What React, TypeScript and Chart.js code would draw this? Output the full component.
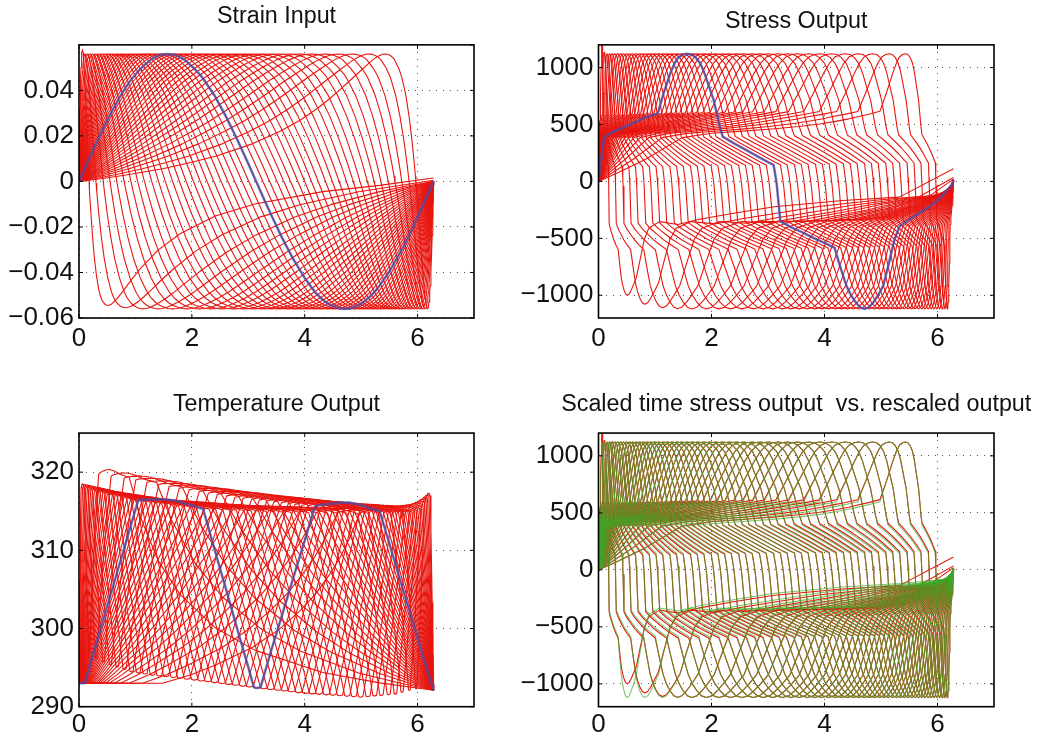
import React, { useEffect, useRef } from "react";
import { Chart, registerables } from "chart.js";
Chart.register(...registerables);

// Per-curve zero crossings (one per curve)
const zeroX = [0.18,0.30,0.43,0.55,0.67,0.80,0.92,1.04,1.16,1.29,1.41,1.53,1.66,1.78,1.90,2.03,2.15,2.27,2.39,2.52,2.64,2.76,2.89,3.01,3.14,3.26,3.38,3.51,3.63,3.75,3.88,4.00,4.12,4.24,4.37,4.49,4.61,4.74,4.86,4.98,5.11,5.23,5.35,5.48,5.60,5.72,5.85,5.97];
const BLUE = 24;
const PERIOD = 6.2832;

// Thick reference curve, read at these abscissae
const phase = [0,0.02,0.05,0.1,0.15,0.2,0.3,0.4,0.5,0.6,0.7,0.8,0.9,1.05,1.15,1.27,1.35,1.42,1.5,1.57,1.65,1.72,1.8,1.87,2.04,2.15,2.2,2.4,2.6,2.8,3.0,3.1,3.14,3.16,3.22,3.4,3.6,3.8,4.0,4.18,4.28,4.39,4.47,4.55,4.63,4.71,4.79,4.87,4.95,5.04,5.14,5.24,5.33,5.5,5.7,5.85,6.0,6.1,6.2,6.25,6.2832];
const strainShape = [0,0.0011,0.0028,0.0056,0.0084,0.0111,0.0165,0.0218,0.0268,0.0316,0.0361,0.0402,0.0439,0.0484,0.0509,0.0534,0.0546,0.0553,0.0559,0.056,0.0558,0.0553,0.0545,0.0535,0.0497,0.0468,0.0452,0.0379,0.0288,0.0187,0.0079,0.0023,0,-0.001,-0.0044,-0.0143,-0.0247,-0.0342,-0.0424,-0.0485,-0.0511,-0.0533,-0.0544,-0.0552,-0.0558,-0.056,-0.0558,-0.0553,-0.0543,-0.053,-0.051,-0.0485,-0.0457,-0.0396,-0.0309,-0.0236,-0.0156,-0.0102,-0.0046,-0.0018,0];
const stressShape = [0,80,195,385,405,420,443,465,487,510,532,555,572,598,770,947,1040,1093,1115,1122,1115,1090,1040,960,714,480,393,335,280,225,170,146,30,-44,-350,-400,-445,-495,-540,-583,-750,-918,-1000,-1060,-1105,-1120,-1105,-1060,-1000,-918,-720,-510,-394,-335,-270,-225,-170,-115,-60,-30,15];
const tempShape = [293,293,293,293,294.2,295.5,297.9,300.4,302.9,305.3,307.8,310.2,312.7,316.4,316.5,316.5,316.5,316.5,316.5,316.5,316.4,316.3,316.2,316,315.7,315.4,315.3,310.2,305.2,300.1,295.1,292.5,292.4,292.4,292.5,297,301.7,306.5,311.2,315.6,315.8,315.9,316,316,316.1,316.1,316.1,316,315.9,315.7,315.4,315.2,315,310.9,306,302.4,298.8,296.4,294,292.9,292.1];

// Envelopes of the temperature panel
const lowerBandX = [0,0.05,1.05,2.2,3.6,5,5.6,6.0,6.2,6.3];
const lowerBandY = [318.2,318,316.4,315.4,315,314.8,315,315.8,317.2,317.4];
const upperBandX = [0,0.37,1,1.55,2.75,3.9,5.1,5.5,5.9,6.05,6.2,6.3];
const upperBandY = [320.3,320.3,319.6,318.8,317.4,316.4,315.5,315.3,315.3,315.8,317.3,317.4];
const lowBandX = [0.18,0.5,0.9,1.3,1.7,3.14,4,5,5.6,5.97];
const lowBandY = [296.5,295.5,294.5,294,293.7,292.4,291.7,291.2,291.6,292.3];

// First curves differ from the rest
const stressLeadPeak = [1210,1135];
const stressLeadTrough = [-1000,-1080,-1110,-1118];
const stressLeadEnd = [112,35,20];
const strainLeadPeak = [0.058];
const strainLeadTrough = [-0.0545,-0.0555];
const strainLeadEnd = [0.0015,0.0005];
const stressTailShift = [-90,-85,-80,-75,-70,-65,-60,-56,-52,-48,-44,-40,-36,-32,-28,-24,-21,-18,-15,-12,-9,-6,-4,-2,0];
const stressBandShift = [-18,-18,-17,-17,-16,-16,-15,-15,-14,-14,-13,-12,-11,-10,-9,-8,-7,-6,-5,-4,-3,-2,-1,-1,0,1,1,2,3,4,5,6,7,8,9,10,11,12,13,14,14,15,15,16,16,17,17,18];

const xTicks = [0,2,4,6];
const strainTicks = [-0.06,-0.04,-0.02,0,0.02,0.04,0.06];
const strainLabels = ["\u22120.06","\u22120.04","\u22120.02","0","0.02","0.04",""];
const stressTicks = [-1000,-500,0,500,1000];
const stressLabels = ["\u22121000","\u2212500","0","500","1000"];
const tempTicks = [290,300,310,320];
const tempLabels = ["290","300","310","320"];

const titles = ["Strain Input","Stress Output","Temperature Output","Scaled time stress output  vs. rescaled output"];
const RED = "#e8150f";
const BLUE_LINE = "rgba(62,82,178,0.72)";
const GREEN = "rgba(62,170,40,0.68)";
const FONT = "'Liberation Sans', Arial, sans-serif";

const warpX = (p: number, z: number) => {
  if (p <= 0) return 0;
  if (p >= PERIOD) return PERIOD;
  const oe = (p / (PERIOD - p)) * (z / (PERIOD - z));
  return (PERIOD * oe) / (1 + oe);
};
const lookup = (xs: number[], ys: number[], x: number) => {
  if (x <= xs[0]) return ys[0];
  for (let i = 1; i < xs.length; i++) {
    if (x <= xs[i]) return ys[i - 1] + ((ys[i] - ys[i - 1]) * (x - xs[i - 1])) / (xs[i] - xs[i - 1]);
  }
  return ys[ys.length - 1];
};

const strainCurve = (i: number) => phase.map((p, j) => {
  let y = strainShape[j];
  if (y > 0 && p < 3 && strainLeadPeak[i] !== undefined) y *= strainLeadPeak[i] / 0.056;
  if (y < 0 && strainLeadTrough[i] !== undefined) y *= -strainLeadTrough[i] / 0.056;
  if (j === phase.length - 1 && strainLeadEnd[i] !== undefined) y = strainLeadEnd[i];
  return { x: warpX(p, zeroX[i]), y };
});

const stressCurve = (i: number, measured: boolean) => phase.map((p, j) => {
  let y = stressShape[j];
  if (p >= 5.7 && i < stressTailShift.length) y += stressTailShift[i];
  if (measured) {
    const inBand = (p >= 0.15 && p <= 1.05) || (p >= 2.2 && p <= 3.1) || (p >= 3.22 && p <= 4.18) || (p >= 5.33 && p <= 6.25);
    if (inBand) y += stressBandShift[i];
    if (y < -583 && stressLeadTrough[i] !== undefined) y = -583 + ((y + 583) * (-stressLeadTrough[i] - 583)) / 537;
    if (j === phase.length - 1 && stressLeadEnd[i] !== undefined) y = stressLeadEnd[i];
    if (y > 598 && stressLeadPeak[i] !== undefined) y = 598 + ((y - 598) * (stressLeadPeak[i] - 598)) / 524;
  }
  return { x: warpX(p, zeroX[i]), y };
});

const tempCurve = (i: number) => {
  const z = zeroX[i];
  const anchorsP = [0.1,1.05,2.2,3.1,3.22,4.18,5.33,6.2832];
  const dLow = lookup(lowBandX, lowBandY, z) - lookup(lowBandX, lowBandY, 3.14);
  const anchorsD = [
    0,
    lookup(lowerBandX, lowerBandY, warpX(1.05, z)) - lookup(lowerBandX, lowerBandY, 1.05),
    lookup(lowerBandX, lowerBandY, warpX(2.2, z)) - lookup(lowerBandX, lowerBandY, 2.2),
    dLow, dLow,
    lookup(upperBandX, upperBandY, warpX(4.18, z)) - lookup(upperBandX, upperBandY, 4.18),
    lookup(upperBandX, upperBandY, warpX(5.33, z)) - lookup(upperBandX, upperBandY, 5.33),
    0,
  ];
  return phase.map((p, j) => ({ x: warpX(p, z), y: tempShape[j] + (p < 0.1 ? 0 : lookup(anchorsP, anchorsD, p)) }));
};

const line = (data: any, color: string, width: number, order: number) => ({
  data, borderColor: color, borderWidth: width, pointRadius: 0, tension: 0, order, fill: false, borderJoinStyle: "round",
});

const boxPlugin = (xt: number[], yt: number[]) => ({
  id: "box",
  afterLayout(c: any) {
    const a = c.chartArea;
    const mid = (a.left + a.right) / 2;
    if (c.titleBlock) { c.titleBlock.left = mid - 260; c.titleBlock.right = mid + 260; c.titleBlock.width = 520; }
  },
  afterDraw(c: any) {
    const { ctx, chartArea: a, scales } = c;
    ctx.save();
    ctx.strokeStyle = "#000";
    ctx.lineWidth = 1;
    ctx.beginPath();
    xt.forEach((v) => {
      const p = scales.x.getPixelForValue(v);
      ctx.moveTo(p, a.bottom); ctx.lineTo(p, a.bottom - 4);
      ctx.moveTo(p, a.top); ctx.lineTo(p, a.top + 4);
    });
    yt.forEach((v) => {
      const p = scales.y.getPixelForValue(v);
      ctx.moveTo(a.left, p); ctx.lineTo(a.left + 4, p);
      ctx.moveTo(a.right, p); ctx.lineTo(a.right - 4, p);
    });
    ctx.stroke();
    ctx.lineWidth = 1.6;
    ctx.strokeRect(a.left, a.top, a.right - a.left, a.bottom - a.top);
    ctx.restore();
  },
});

type Panel = { left: number; top: number; width: number; height: number; areaLeft: number; xH: number; padTop: number; titleBottom: number; tickPad: number };
const panels: Panel[] = [
  { left: 0, top: 0, width: 510, height: 370, areaLeft: 79, xH: 52, padTop: 2.5, titleBottom: 14.4, tickPad: 5 },
  { left: 520, top: 0, width: 510, height: 370, areaLeft: 78.5, xH: 52, padTop: 7.5, titleBottom: 9.4, tickPad: 5 },
  { left: 0, top: 385, width: 510, height: 354, areaLeft: 79, xH: 32.3, padTop: 5.5, titleBottom: 14.6, tickPad: 3 },
  { left: 520, top: 385, width: 523, height: 354, areaLeft: 78.5, xH: 32.3, padTop: 5.5, titleBottom: 14.6, tickPad: 3 },
];
const rightEdge = [474, 994, 474, 994];
const W = 1.1;

const makeDatasets = (n: number) => {
  const idx = zeroX.map((_, i) => i);
  if (n === 0) return [...idx.map((i) => line(strainCurve(i), RED, W, 2)), line(strainCurve(BLUE), BLUE_LINE, 2.6, 1)];
  if (n === 1) return [...idx.map((i) => line(stressCurve(i, true), RED, W, 2)), line(stressCurve(BLUE, false), BLUE_LINE, 2.6, 1)];
  if (n === 2) return [...idx.map((i) => line(tempCurve(i), RED, W, 2)), line(tempCurve(BLUE), BLUE_LINE, 2.6, 1)];
  return [...idx.map((i) => line(stressCurve(i, true), RED, W, 2)), ...idx.map((i) => line(stressCurve(i, false), GREEN, W, 1))];
};

function Plot({ n }: { n: number }) {
  const ref = useRef<HTMLCanvasElement>(null);
  useEffect(() => {
    const p = panels[n];
    const yt = n === 0 ? strainTicks : n === 2 ? tempTicks : stressTicks;
    const yl = n === 0 ? strainLabels : n === 2 ? tempLabels : stressLabels;
    const range = n === 0 ? [-0.06, 0.06] : n === 2 ? [290, 325] : [-1200, 1200];
    const grid = { color: "#555", lineWidth: 1, drawTicks: false };
    const border = { display: false, dash: [1, 6] };
    const chart = new Chart(ref.current as HTMLCanvasElement, {
      type: "line",
      data: { datasets: makeDatasets(n) as any },
      plugins: [boxPlugin(xTicks, yt)],
      options: {
        animation: false, responsive: false, parsing: false, normalized: true,
        layout: { padding: { top: p.padTop, left: 0, right: p.width - (rightEdge[n] - p.left), bottom: 0 } },
        plugins: {
          legend: { display: false }, tooltip: { enabled: false },
          title: { display: true, text: titles[n], color: "#111", fullSize: false, font: { family: FONT, size: 23.3, weight: "normal" }, padding: { top: 0, bottom: p.titleBottom } },
        },
        scales: {
          x: {
            type: "linear", min: 0, max: 7, grid, border,
            afterBuildTicks: (s: any) => { s.ticks = xTicks.map((value) => ({ value })); },
            afterFit: (s: any) => { s.height = p.xH; },
            ticks: { color: "#111", padding: p.tickPad, maxRotation: 0, autoSkip: false, font: { family: FONT, size: 26 }, callback: (v: any) => String(v) },
          },
          y: {
            type: "linear", min: range[0], max: range[1], grid, border,
            afterBuildTicks: (s: any) => { s.ticks = yt.map((value) => ({ value })); },
            afterFit: (s: any) => { s.width = p.areaLeft; },
            ticks: { color: "#111", padding: 5, autoSkip: false, font: { family: FONT, size: 26 }, callback: (v: any) => { const k = yt.findIndex((t) => Math.abs(t - v) < 1e-9); return k >= 0 ? yl[k] : ""; } },
          },
        },
      } as any,
    });
    return () => chart.destroy();
  }, [n]);
  const p = panels[n];
  return <canvas ref={ref} width={p.width} height={p.height} style={{ position: "absolute", left: p.left, top: p.top, width: p.width, height: p.height }} />;
}

export default function App() {
  return (
    <div style={{ position: "absolute", left: 0, top: 0, width: 1043, height: 739, background: "#fff", overflow: "hidden" }}>
      {panels.map((_, n) => <Plot key={n} n={n} />)}
    </div>
  );
}
